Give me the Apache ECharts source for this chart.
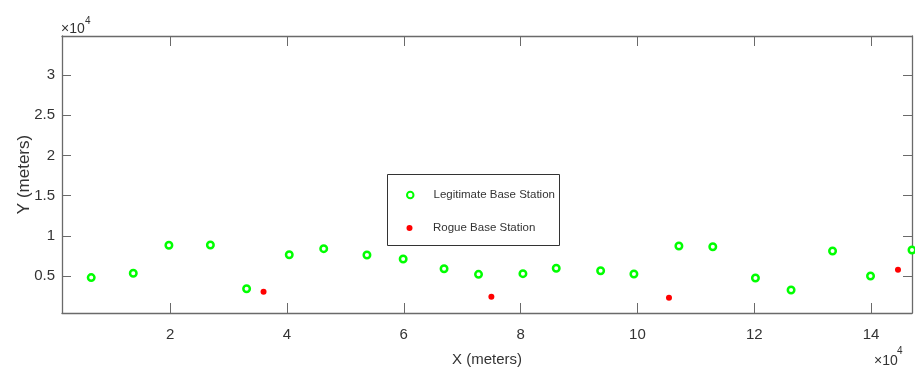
<!DOCTYPE html>
<html>
<head>
<meta charset="utf-8">
<script src="https://cdn.jsdelivr.net/npm/echarts@6/dist/echarts.min.js"></script>
<style>
  html, body { margin: 0; padding: 0; background: #fff; }
  #chart { width: 915px; height: 369px; }
</style>
</head>
<body>
<div id="chart"></div>
<script>
// station positions in meters
const legitX = [6500, 13700, 19800, 26900, 33100, 40400, 46300, 53700, 59900, 66900, 72800,
                80400, 86100, 93700, 99400, 107100, 112900, 120200, 126300, 133400, 139900, 147000]
const legitY = [4800, 5340, 8820, 8860, 3420, 7650, 8400, 7610, 7110, 5910, 5210,
                5290, 5960, 5660, 5250, 8730, 8640, 4750, 3260, 8110, 5000, 8230]
const rogueX = [36000, 75000, 105400, 144600]
const rogueY = [3050, 2430, 2300, 5780]

const xTicks = [20000, 40000, 60000, 80000, 100000, 120000, 140000]
const yTicks = [5000, 10000, 15000, 20000, 25000, 30000]

const X_MIN = 1500, X_MAX = 147000
const Y_MIN = 400, Y_MAX = 34850

const font = "'Liberation Sans', Arial, Helvetica, sans-serif"
const lineCol = '#6a6a6a'
const textCol = '#333'

const legit = legitX.map((x, i) => [x, legitY[i]])
const rogue = rogueX.map((x, i) => [x, rogueY[i]])

function fmt(v) { return String(v / 10000) }

var chart = echarts.init(document.getElementById('chart'), null, {renderer: 'canvas'})

const tickStyle = {show: true, inside: true, lineStyle: {color: lineCol, width: 1}}

chart.setOption({
    animation: false,
    backgroundColor: '#fff',
    grid: {left: 62, top: 36, right: 3, bottom: 56, containLabel: false, outerBoundsMode: 'none'},
    xAxis: [{
        type: 'value', min: X_MIN, max: X_MAX, position: 'bottom',
        name: 'X (meters)', nameLocation: 'middle', nameGap: 39, nameMoveOverlap: false,
        nameTextStyle: {fontFamily: font, fontSize: 15, color: textCol},
        axisLine: {show: true, onZero: false, lineStyle: {color: lineCol, width: 1.3}},
        axisTick: Object.assign({length: 10, customValues: xTicks}, tickStyle),
        axisLabel: {customValues: xTicks, formatter: fmt, margin: 14, fontFamily: font, fontSize: 15, color: textCol},
        splitLine: {show: false}
    }, {
        type: 'value', min: X_MIN, max: X_MAX, position: 'top',
        axisLine: {show: true, onZero: false, lineStyle: {color: lineCol, width: 1.3}},
        axisTick: Object.assign({length: 10, customValues: xTicks}, tickStyle),
        axisLabel: {show: false},
        splitLine: {show: false}
    }],
    yAxis: [{
        type: 'value', min: Y_MIN, max: Y_MAX, position: 'left',
        name: 'Y (meters)', nameLocation: 'middle', nameGap: 29, nameRotate: 90, nameMoveOverlap: false,
        nameTextStyle: {fontFamily: font, fontSize: 17, color: textCol},
        axisLine: {show: true, onZero: false, lineStyle: {color: lineCol, width: 1.3}},
        axisTick: Object.assign({length: 9, customValues: yTicks}, tickStyle),
        axisLabel: {customValues: yTicks, formatter: fmt, margin: 7, fontFamily: font, fontSize: 15, color: textCol},
        splitLine: {show: false}
    }, {
        type: 'value', min: Y_MIN, max: Y_MAX, position: 'right',
        axisLine: {show: true, onZero: false, lineStyle: {color: lineCol, width: 1.3}},
        axisTick: Object.assign({length: 9, customValues: yTicks}, tickStyle),
        axisLabel: {show: false},
        splitLine: {show: false}
    }],
    legend: [{
        data: ['Legitimate Base Station'],
        left: 406, top: 189, padding: 0,
        itemWidth: 6.5, itemHeight: 6.5,
        textStyle: {fontFamily: font, fontSize: 11.5, color: textCol, padding: [0, 0, 0, 15]}
    }, {
        data: ['Rogue Base Station'],
        left: 406.5, top: 222, padding: 0,
        itemWidth: 6, itemHeight: 6,
        textStyle: {fontFamily: font, fontSize: 11.5, color: textCol, padding: [0, 0, 0, 15.5]}
    }],
    graphic: [
        // legend frame
        {type: 'rect', left: 387, top: 174, z: 0,
         shape: {width: 172, height: 71},
         style: {fill: '#fff', stroke: '#333', lineWidth: 1}},
        // exponent labels
        {type: 'text', left: 61, top: 22, style: {text: '\u00d710', font: '14px ' + font, fill: textCol}},
        {type: 'text', left: 85, top: 16, style: {text: '4', font: '10px ' + font, fill: textCol}},
        {type: 'text', left: 874, top: 354, style: {text: '\u00d710', font: '14px ' + font, fill: textCol}},
        {type: 'text', left: 897, top: 346, style: {text: '4', font: '10px ' + font, fill: textCol}}
    ],
    series: [{
        name: 'Legitimate Base Station',
        type: 'scatter', xAxisIndex: 0, yAxisIndex: 0,
        data: legit, symbol: 'circle', symbolSize: 6.5, clip: false,
        itemStyle: {color: '#fff', borderColor: '#00ff00', borderWidth: 2.5, opacity: 1},
        z: 3
    }, {
        name: 'Rogue Base Station',
        type: 'scatter', xAxisIndex: 0, yAxisIndex: 0,
        data: rogue, symbol: 'circle', symbolSize: 6, clip: false,
        itemStyle: {color: '#ff0000', opacity: 1},
        z: 3
    }]
})
</script>
</body>
</html>
